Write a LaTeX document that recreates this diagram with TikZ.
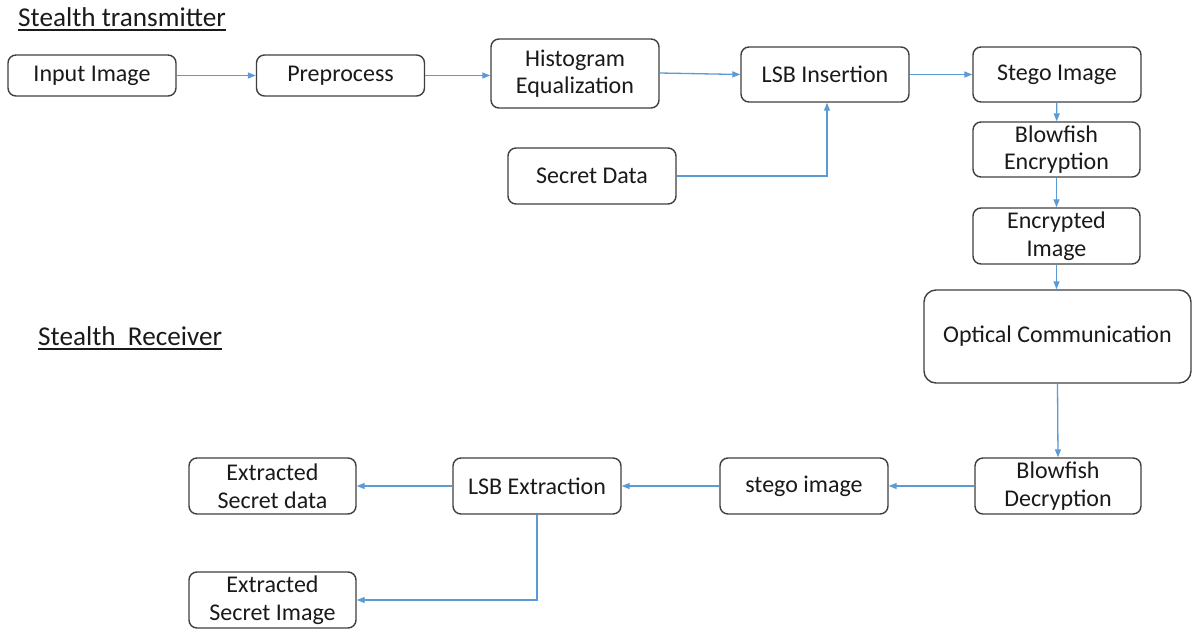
\documentclass[tikz,border=0pt]{standalone}
\usepackage{fontspec}
\setmainfont{Carlito}
\usetikzlibrary{arrows.meta}
\definecolor{boxline}{HTML}{3F3F3F}
\definecolor{arrowblue}{HTML}{5B9BD5}
\definecolor{txt}{HTML}{1A1A1A}
\tikzset{
  box/.style={draw=boxline, line width=1.4pt, rounded corners=8pt, minimum width=168pt, minimum height=56pt,
    inner sep=0pt, align=center, text=txt, font=\fontsize{24}{27.5}\selectfont},
  conn/.style={draw=arrowblue, line width=1.3pt, -{Triangle[length=8pt,width=6pt]}},
  title/.style={anchor=base west, inner sep=0pt, text=txt, font=\fontsize{27.2}{30}\selectfont},
}
\begin{document}
\begin{tikzpicture}[x=1pt,y=-1pt]
\useasboundingbox (0,0) rectangle (1195,630);
\fill[white] (0,0) rectangle (1195,630);
\node[title] (t1) at (18,26) {Stealth transmitter};
\draw[txt, line width=1.6pt] ([yshift=-4pt]t1.base west) -- ([yshift=-4pt]t1.base east);
\node[title] (t2) at (38,345) {Stealth\ \ Receiver};
\draw[txt, line width=1.6pt] ([yshift=-4pt]t2.base west) -- ([yshift=-4pt]t2.base east);

\node[box, minimum height=41pt] (in) at (92,75.5) {Input Image};
\node[box, minimum height=41pt] (pre) at (340.5,75.5) {Preprocess};
\node[box, minimum height=69pt] (hist) at (575,73.5) {Histogram\\Equalization};
\node[box, minimum height=55pt] (lsbi) at (825,74.5) {LSB Insertion};
\node[box, minimum height=55pt] (stego) at (1057,74.5) {Stego Image};
\node[box, minimum height=56pt] (sec) at (592,176) {Secret Data};
\node[box, minimum width=167pt, minimum height=55pt] (bfe) at (1056.5,149.5) {Blowfish\\Encryption};
\node[box, minimum width=167pt, minimum height=56pt] (enc) at (1056.5,236) {Encrypted\\Image};
\node[box, minimum width=267pt, minimum height=93pt, rounded corners=12pt] (opt) at (1057.5,336.5) {Optical Communication};
\node[box, minimum width=166pt, minimum height=56pt] (bfd) at (1058,486) {Blowfish\\Decryption};
\node[box, minimum height=56pt] (sti) at (804,486) {stego image};
\node[box, minimum height=56pt] (lsbe) at (537,486) {LSB Extraction};
\node[box, minimum width=167pt, minimum height=56pt] (exd) at (272.5,486) {Extracted\\Secret data};
\node[box, minimum width=167pt, minimum height=56pt] (exi) at (272.5,600) {Extracted\\Secret Image};

\draw[conn] (in) -- (pre);
\draw[conn] (pre.east) -- (pre.east -| hist.west);
\draw[conn] (hist.east |- 0,73) -- (lsbi.west);
\draw[conn] (lsbi) -- (stego);
\draw[conn] (sec.east) -| ([xshift=2pt]lsbi.south);
\draw[conn] (stego) -- (bfe);
\draw[conn] (bfe) -- (enc);
\draw[conn] (enc) -- (opt.north -| enc.south);
\draw[conn] (opt.south) -- (bfd.north);
\draw[conn] (bfd) -- (sti);
\draw[conn] (sti) -- (lsbe);
\draw[conn] (lsbe) -- (exd);
\draw[conn] (lsbe.south) |- (exi.east);
\end{tikzpicture}
\end{document}
